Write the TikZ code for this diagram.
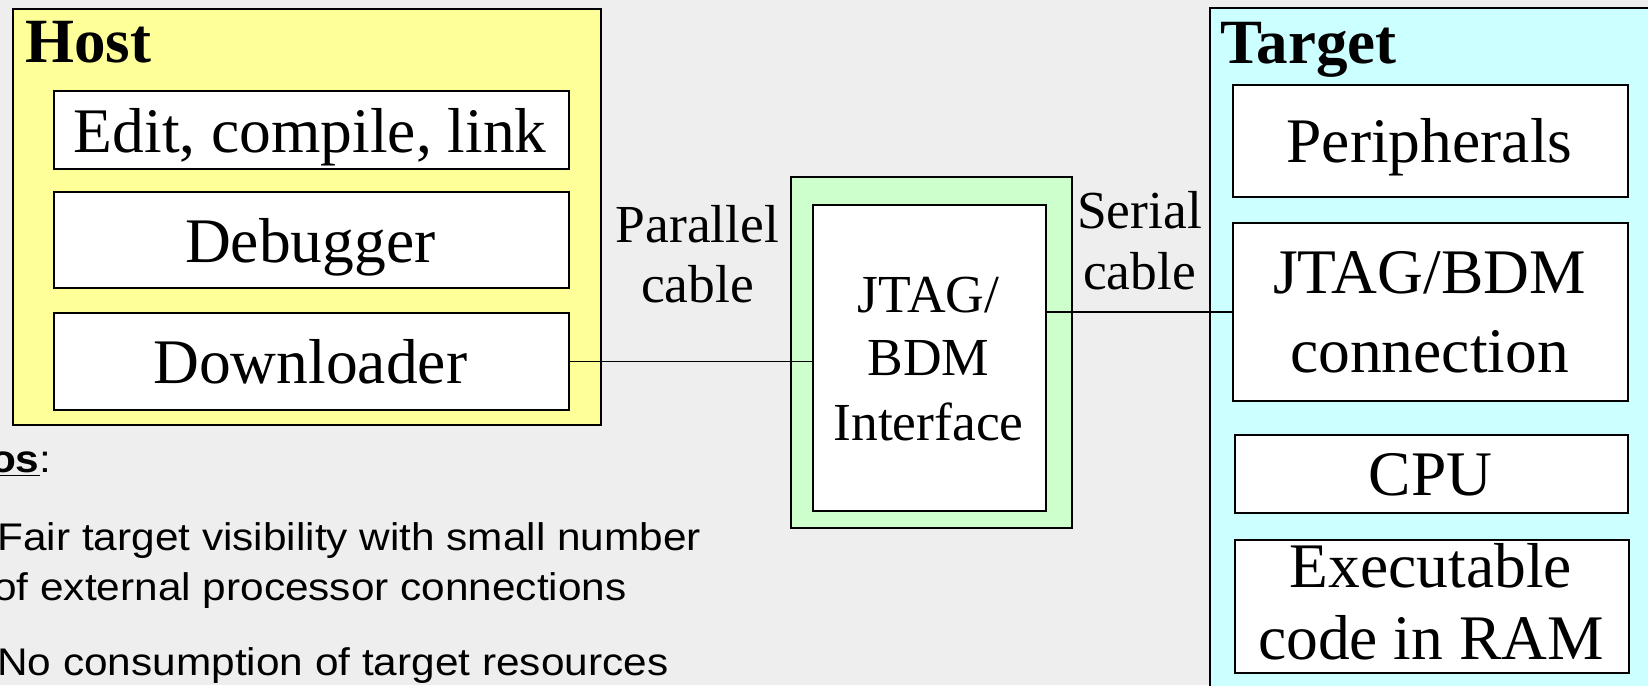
\documentclass[tikz,border=0pt]{standalone}
\usepackage{fontspec}
\setmainfont{Liberation Serif}
\setsansfont{Liberation Sans}
\definecolor{slidebg}{HTML}{EEEEEE}
\definecolor{hostfill}{HTML}{FFFF99}
\definecolor{ifacefill}{HTML}{CCFFCC}
\definecolor{targetfill}{HTML}{CCFFFF}
\tikzset{
  frame/.style={draw=black, line width=1pt, inner sep=0pt, anchor=north west},
  panel/.style={frame, fill=white},
  big/.style={font=\fontsize{31.75}{38}\selectfont, inner sep=0pt, anchor=base},
  bigbold/.style={font=\bfseries\fontsize{31.5}{38}\selectfont, inner sep=0pt, anchor=base west},
  small/.style={font=\fontsize{26.75}{32}\selectfont, inner sep=0pt, anchor=base},
  note/.style={font=\sffamily\fontsize{19.25}{23}\selectfont, inner sep=0pt, anchor=base west},
  cable/.style={draw=black, line width=0.7pt}
}
\begin{document}
\begin{tikzpicture}[x=0.5pt, y=-0.5pt]
  \useasboundingbox (0,0) rectangle (1648,685);
  \clip (0,0) rectangle (1648,685);
  \fill[slidebg] (0,0) rectangle (1648,685);

  % host side
  \node[frame, fill=hostfill, minimum width=294pt, minimum height=208pt] (host) at (12,8) {};
  \node[bigbold] (hostlbl) at (25,62) {Host};
  \node[panel, minimum width=257.75pt, minimum height=39pt] (edit) at (52.5,90) {};
  \node[panel, minimum width=257.75pt, minimum height=48pt] (dbg) at (52.5,191) {};
  \node[panel, minimum width=257.75pt, minimum height=48.5pt] (down) at (52.5,312) {};
  \node[big] (editlbl) at (310.25,152) {Edit, compile, link};
  \node[big] (dbglbl) at (310.25,262) {Debugger};
  \node[big] (downlbl) at (310.25,383) {Downloader};

  % interface pod
  \node[frame, fill=ifacefill, minimum width=140.5pt, minimum height=175.5pt] (pod) at (790,176) {};
  \node[panel, minimum width=116.5pt, minimum height=153pt] (iface) at (812,204) {};
  \node[small] (if1) at (928.5,312) {JTAG/};
  \node[small] (if2) at (928.5,375) {BDM};
  \node[small] (if3) at (928.5,440) {Interface};

  % cable labels
  \node[small] (par1) at (697.5,242) {Parallel};
  \node[small] (par2) at (697.5,302) {cable};
  \node[small] (ser1) at (1139.5,228) {Serial};
  \node[small] (ser2) at (1139.5,289) {cable};

  % target side
  \node[frame, fill=targetfill, minimum width=250pt, minimum height=360pt] (target) at (1209,7) {};
  \node[bigbold] (targetlbl) at (1220,63) {Target};
  \node[panel, minimum width=197.5pt, minimum height=56pt] (peri) at (1232,84) {};
  \node[panel, minimum width=197.5pt, minimum height=89pt] (conn) at (1232,222) {};
  \node[panel, minimum width=196.5pt, minimum height=39pt] (cpu) at (1234,434) {};
  \node[panel, minimum width=197pt, minimum height=66.5pt] (exec) at (1234,539) {};
  \node[big] (perilbl) at (1429.5,162) {Peripherals};
  \node[big] (conn1) at (1429.5,293) {JTAG/BDM};
  \node[big] (conn2) at (1429.5,372) {connection};
  \node[big] (cpulbl) at (1430.5,495) {CPU};
  \node[big] (exec1) at (1431,587) {Executable};
  \node[big] (exec2) at (1431,659) {code in RAM};

  % cables
  \draw[cable] (down.east) -- (down.east -| iface.west);
  \draw[cable] (conn.west) -- (conn.west -| iface.east);

  % notes below the host
  \node[note] (pros) at (-55,472) {\scalebox{1.1}[1]{\underline{\bfseries Pros}:}};
  \node[note] (pro1) at (-3,550) {\scalebox{1.1}[1]{Fair target visibility with small number}};
  \node[note] (pro1b) at (-7,600) {\scalebox{1.1}[1]{of external processor connections}};
  \node[note] (pro2) at (-3,675) {\scalebox{1.1}[1]{No consumption of target resources}};
\end{tikzpicture}
\end{document}
